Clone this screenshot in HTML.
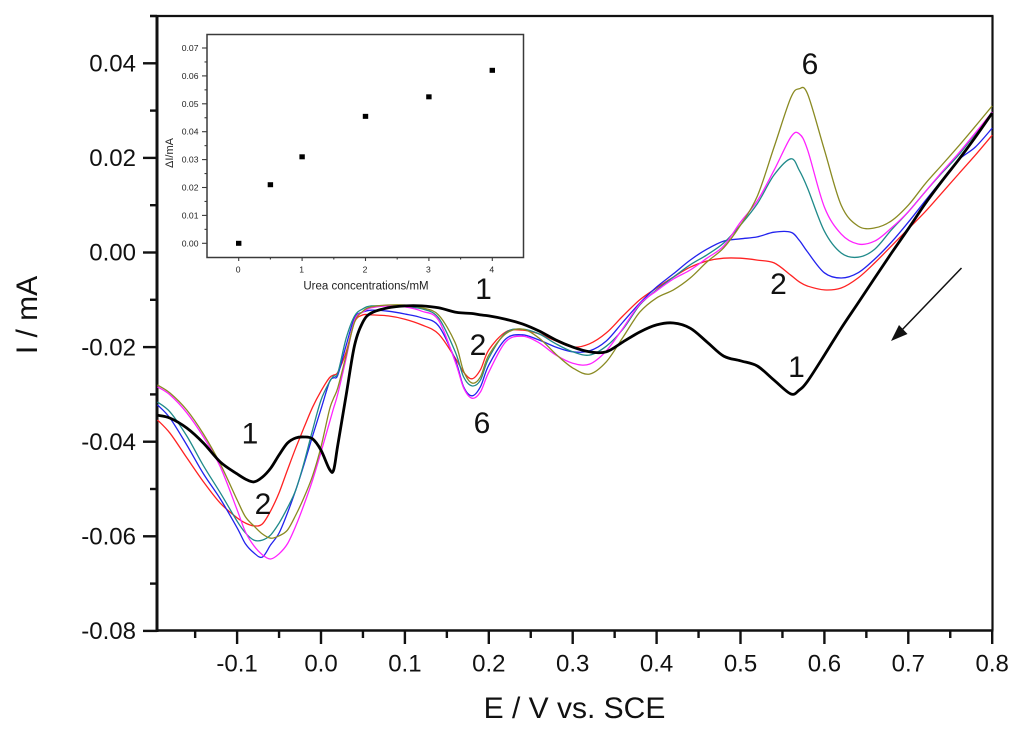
<!DOCTYPE html>
<html lang="en">
<head>
<meta charset="utf-8">
<title>Voltammograms with urea concentrations</title>
<style>
html,body{margin:0;padding:0;background:#fff;width:1024px;height:735px;overflow:hidden}
svg{display:block;font-family:"Liberation Sans",Arial,sans-serif;filter:blur(0.3px)}
</style>
</head>
<body>
<svg id="chart" xmlns="http://www.w3.org/2000/svg" width="1024" height="735" viewBox="0 0 1024 735">
  <rect x="0" y="0" width="1024" height="735" fill="#fff"/>
  <g id="main-axes"></g>
  <g id="main-series" fill="none" stroke-linejoin="round"></g>
  <g id="inset"></g>
  <text x="574.5" y="718" font-size="30" text-anchor="middle" fill="#111">E / V vs. SCE</text>
  <text transform="translate(37,315) rotate(-90)" font-size="30" text-anchor="middle" fill="#111">I / mA</text>
  <g font-size="30" fill="#111" text-anchor="middle">
    <text x="810" y="74">6</text>
    <text x="778.5" y="294">2</text>
    <text x="796.5" y="377">1</text>
    <text x="483.5" y="299">1</text>
    <text x="478" y="355">2</text>
    <text x="482" y="433">6</text>
    <text x="250" y="443.5">1</text>
    <text x="263" y="514">2</text>
  </g>
  <g>
    <line x1="961.5" y1="268" x2="900" y2="332" stroke="#111" stroke-width="1.5"/>
    <polygon points="891,341 899,325 907.5,334" fill="#111"/>
  </g>
</svg>
<script>
// ---- main chart data ----
const potentials = [-0.195,-0.18,-0.16,-0.14,-0.12,-0.10,-0.09,-0.08,-0.07,-0.06,-0.05,-0.04,-0.03,-0.02,-0.01,0,0.01,0.015,0.02,0.03,0.04,0.05,0.06,0.08,0.10,
  0.12,0.14,0.16,0.17,0.18,0.19,0.20,0.22,0.24,0.26,0.28,0.30,0.32,0.34,0.36,0.38,0.40,0.42,0.44,0.46,0.48,0.50,0.52,0.54,0.56,0.57,0.58,0.60,0.62,0.64,0.66,0.68,0.70,0.72,0.74,0.76,0.78,0.80];
const curve1 = [-.0344,-.0350,-.0371,-.0403,-.0443,-.0468,-.0479,-.0485,-.0475,-.0456,-.0428,-.0403,-.0392,-.0390,-.0394,-.0418,-.0458,-.0460,-.0407,-.0301,-.0196,-.0147,-.0128,-.0117,-.0113,
  -.0113,-.0117,-.0126,-.0128,-.0129,-.0132,-.0134,-.0141,-.0151,-.0166,-.0185,-.0200,-.0210,-.0210,-.0189,-.0168,-.0153,-.0149,-.0160,-.0189,-.0219,-.0229,-.0240,-.0270,-.0299,-.0291,-.0272,-.0217,-.0160,-.0107,-.0054,-.0001,.0050,.0103,.0151,.0196,.0244,.0295];
const curve2 = [-.0354,-.0382,-.0434,-.0485,-.0530,-.0561,-.0572,-.0578,-.0574,-.0546,-.0508,-.0460,-.0413,-.0369,-.0327,-.0293,-.0265,-.0259,-.0253,-.0210,-.0147,-.0132,-.0132,-.0134,-.0141,
  -.0153,-.0172,-.0223,-.0253,-.0267,-.0248,-.0206,-.0168,-.0164,-.0172,-.0187,-.0200,-.0193,-.0170,-.0134,-.0100,-.0075,-.0052,-.0031,-.0018,-.0012,-.0012,-.0016,-.0022,-.0048,-.0062,-.0071,-.0079,-.0075,-.0054,-.0022,.0014,.0050,.0086,.0126,.0166,.0206,.0248];
const curve3 = [-.0322,-.0350,-.0407,-.0468,-.0521,-.0582,-.0616,-.0635,-.0644,-.0618,-.0593,-.0551,-.0502,-.0447,-.0388,-.0331,-.0274,-.0265,-.0259,-.0196,-.0138,-.0126,-.0122,-.0124,-.0130,
  -.0138,-.0155,-.0227,-.0284,-.0303,-.0284,-.0238,-.0183,-.0174,-.0185,-.0200,-.0210,-.0208,-.0187,-.0147,-.0107,-.0073,-.0045,-.0016,.0007,.0024,.0029,.0033,.0043,.0043,.0026,.0001,-.0043,-.0054,-.0043,-.0014,.0022,.0064,.0109,.0153,.0196,.0223,.0263];
const curve4 = [-.0316,-.0337,-.0388,-.0451,-.0508,-.0568,-.0593,-.0608,-.0608,-.0597,-.0572,-.0540,-.0502,-.0443,-.0375,-.0312,-.0274,-.0261,-.0255,-.0181,-.0134,-.0119,-.0113,-.0113,-.0115,
  -.0119,-.0138,-.0210,-.0263,-.0282,-.0270,-.0223,-.0170,-.0162,-.0172,-.0193,-.0210,-.0217,-.0198,-.0162,-.0111,-.0079,-.0052,-.0026,-.0005,.0020,.0058,.0103,.0164,.0198,.0174,.0136,.0045,-.0001,-.0010,.0007,.0048,.0086,.0128,.0168,.0206,.0251,.0293];
const curve5 = [-.0284,-.0301,-.0339,-.0390,-.0453,-.0544,-.0591,-.0620,-.0639,-.0648,-.0637,-.0616,-.0578,-.0532,-.0481,-.0422,-.0360,-.0329,-.0299,-.0223,-.0143,-.0126,-.0117,-.0113,-.0115,
  -.0124,-.0143,-.0231,-.0286,-.0308,-.0295,-.0253,-.0189,-.0177,-.0191,-.0217,-.0234,-.0236,-.0208,-.0160,-.0109,-.0081,-.0056,-.0037,-.0012,.0014,.0064,.0109,.0174,.0244,.0251,.0217,.0096,.0039,.0018,.0024,.0052,.0086,.0128,.0170,.0210,.0253,.0297];
const curve6 = [-.0280,-.0297,-.0333,-.0384,-.0447,-.0523,-.0559,-.0578,-.0595,-.0604,-.0599,-.0587,-.0555,-.0517,-.0472,-.0411,-.0333,-.0308,-.0286,-.0217,-.0147,-.0124,-.0115,-.0111,-.0111,
  -.0117,-.0132,-.0191,-.0251,-.0276,-.0263,-.0217,-.0172,-.0162,-.0181,-.0215,-.0244,-.0257,-.0231,-.0179,-.0126,-.0096,-.0079,-.0054,-.0020,.0010,.0058,.0119,.0223,.0327,.0346,.0335,.0217,.0100,.0056,.0052,.0067,.0100,.0145,.0185,.0225,.0267,.0310];
const xMajorTicks = [-0.1,0,0.1,0.2,0.3,0.4,0.5,0.6,0.7,0.8];
const xMinorTicks = [-0.15,-0.05,0.05,0.15,0.25,0.35,0.45,0.55,0.65,0.75];
const xTickLabels = ["-0.1","0.0","0.1","0.2","0.3","0.4","0.5","0.6","0.7","0.8"];
const yMajorTicks = [-0.08,-0.06,-0.04,-0.02,0,0.02,0.04];
const yMinorTicks = [-0.07,-0.05,-0.03,-0.01,0.01,0.03,0.05];
const yTickLabels = ["-0.08","-0.06","-0.04","-0.02","0.00","0.02","0.04"];

// ---- inset data ----
const ureaConcentrations = [0,0.5,1,2,3,4];
const deltaCurrents = [0,0.021,0.031,0.0455,0.0525,0.062];
const insetXMajor = [0,1,2,3,4];
const insetXMinor = [0.5,1.5,2.5,3.5];
const insetXLabels = ["0","1","2","3","4"];
const insetYMajor = [0,0.01,0.02,0.03,0.04,0.05,0.06,0.07];
const insetYMinor = [0.005,0.015,0.025,0.035,0.045,0.055,0.065];
const insetYLabels = ["0.00","0.01","0.02","0.03","0.04","0.05","0.06","0.07"];

const NS = "http://www.w3.org/2000/svg";
const xScale = e => 321 + 839 * e;
const yScale = i => 252.5 - 4730 * i;
const insetX = c => 238.7 + 63.4 * c;
const insetY = d => 243.3 - 2790 * d;

function lineEl(parent, x1, y1, x2, y2, color, width) {
  const el = document.createElementNS(NS, "line");
  el.setAttribute("x1", x1);
  el.setAttribute("y1", y1);
  el.setAttribute("x2", x2);
  el.setAttribute("y2", y2);
  el.setAttribute("stroke", color);
  el.setAttribute("stroke-width", width);
  parent.appendChild(el);
  return el;
}
function textEl(parent, x, y, str, size, anchor, color) {
  const el = document.createElementNS(NS, "text");
  el.setAttribute("x", x);
  el.setAttribute("y", y);
  el.setAttribute("font-size", size);
  el.setAttribute("text-anchor", anchor);
  el.setAttribute("fill", color);
  el.textContent = str;
  parent.appendChild(el);
  return el;
}

// main axes
const axes = document.getElementById("main-axes");
const L = 157, R = 992.5, T = 16, B = 630.5;
const axisColor = "#111";
let a;
a = lineEl(axes, L, T - 0, L, B + 1.5, axisColor, 3);


a = lineEl(axes, L, B, R + 1, B, axisColor, 2.6);


a = lineEl(axes, 150, T, R + 1, T, axisColor, 2.2);


a = lineEl(axes, R, T, R, B, axisColor, 2.2);



xMajorTicks.forEach((v, k) => {
  const t = lineEl(axes, xScale(v), B, xScale(v), 644, axisColor, 2.4);
  
  
  const lab = textEl(axes, xScale(v), 671.5, xTickLabels[k], 24, "middle", "#111");
  
  
});
xMinorTicks.forEach(v => {
  const t = lineEl(axes, xScale(v), B, xScale(v), 638, axisColor, 2.4);
  
  
});
yMajorTicks.forEach((v, k) => {
  const t = lineEl(axes, 143, yScale(v), L, yScale(v), axisColor, 2.4);
  
  
  const lab = textEl(axes, 136, yScale(v) + 8.2, yTickLabels[k], 24, "end", "#111");
  
  
});
yMinorTicks.forEach(v => {
  const t = lineEl(axes, 150, yScale(v), L, yScale(v), axisColor, 2.4);
  
  
});

// series
function smoothPath(xs, ys) {
  const pts = xs.map((x, k) => [xScale(x), yScale(ys[k])]);
  let d = "M" + pts[0][0].toFixed(1) + " " + pts[0][1].toFixed(1);
  for (let k = 0; k < pts.length - 1; k++) {
    const p0 = pts[Math.max(0, k - 1)], p1 = pts[k], p2 = pts[k + 1], p3 = pts[Math.min(pts.length - 1, k + 2)];
    const c1x = p1[0] + (p2[0] - p0[0]) / 6, c1y = p1[1] + (p2[1] - p0[1]) / 6;
    const c2x = p2[0] - (p3[0] - p1[0]) / 6, c2y = p2[1] - (p3[1] - p1[1]) / 6;
    d += "C" + c1x.toFixed(1) + " " + c1y.toFixed(1) + " " + c2x.toFixed(1) + " " + c2y.toFixed(1) + " " + p2[0].toFixed(1) + " " + p2[1].toFixed(1);
  }
  return d;
}
const seriesGroup = document.getElementById("main-series");
const seriesList = [
  [curve2, "#ff2222", 1.3, "curve-2-red"],
  [curve3, "#2222ee", 1.3, "curve-3-blue"],
  [curve4, "#1f8a8a", 1.3, "curve-4-teal"],
  [curve5, "#ff22ff", 1.3, "curve-5-magenta"],
  [curve6, "#8a8a22", 1.3, "curve-6-olive"],
  [curve1, "#000000", 2.8, "curve-1-black"]
];
seriesList.forEach(s => {
  const p = document.createElementNS(NS, "path");
  p.setAttribute("d", smoothPath(potentials, s[0]));
  p.setAttribute("stroke", s[1]);
  p.setAttribute("stroke-width", s[2]);
  
  
  seriesGroup.appendChild(p);
});

// inset
const inset = document.getElementById("inset");
const iL = 207, iR = 523.5, iT = 34.5, iB = 257.5;
const iColor = "#3a3a3a";
const frame = document.createElementNS(NS, "rect");
frame.setAttribute("x", iL);
frame.setAttribute("y", iT);
frame.setAttribute("width", iR - iL);
frame.setAttribute("height", iB - iT);
frame.setAttribute("fill", "#fff");
frame.setAttribute("stroke", iColor);
frame.setAttribute("stroke-width", 1.5);


inset.appendChild(frame);

insetXMajor.forEach((v, k) => {
  const t = lineEl(inset, insetX(v), iB, insetX(v), iB + 3.5, iColor, 1.1);
  
  
  const lab = textEl(inset, insetX(v) - 0.5, 272.5, insetXLabels[k], 8.6, "middle", "#222");
  
  
});
insetXMinor.forEach(v => {
  const t = lineEl(inset, insetX(v), iB, insetX(v), iB + 2, iColor, 1.1);
  
  
});
insetYMajor.forEach((v, k) => {
  const t = lineEl(inset, iL - 5, insetY(v), iL, insetY(v), iColor, 1.1);
  
  
  const lab = textEl(inset, 198.5, insetY(v) + 3, insetYLabels[k], 8.6, "end", "#222");
  
  
});
insetYMinor.forEach(v => {
  const t = lineEl(inset, iL - 2.5, insetY(v), iL, insetY(v), iColor, 1.1);
  
  
});
ureaConcentrations.forEach((c, k) => {
  const m = document.createElementNS(NS, "rect");
  m.setAttribute("x", insetX(c) - 2.7);
  m.setAttribute("y", insetY(deltaCurrents[k]) - 2.5);
  m.setAttribute("width", 5.4);
  m.setAttribute("height", 5);
  m.setAttribute("fill", "#000");
  
  
  inset.appendChild(m);
});
const ix = textEl(inset, 366, 289.5, "Urea concentrations/mM", 11.5, "middle", "#222");


const iy = textEl(inset, 0, 0, "\u0394I/mA", 11, "middle", "#222");
iy.setAttribute("transform", "translate(173,153) rotate(-90)");


</script>
</body>
</html>
